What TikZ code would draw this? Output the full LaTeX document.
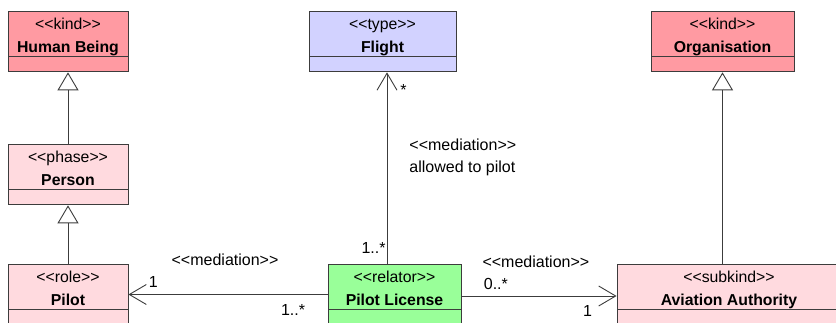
\documentclass[tikz,border=0pt]{standalone}
\usepackage{fontspec}
\setmainfont{Liberation Sans}[Ligatures=TeXOff]
\usetikzlibrary{arrows.meta, positioning}
\definecolor{umLine}{HTML}{3C3C3C}
\definecolor{umKind}{HTML}{FF9AA2}
\definecolor{umPale}{HTML}{FFDADF}
\definecolor{umType}{HTML}{D2D2FF}
\definecolor{umRelator}{HTML}{99FF99}
\newcommand{\clstext}[2]{\rule{0pt}{18pt}<<#1>>\\\textbf{#2}\rule[-3.5pt]{0pt}{0pt}}
\tikzset{
  cls/.style={
    draw=umLine, line width=0.9pt, inner sep=0pt,
    minimum height=45pt, align=center,
    font=\fontsize{15.8}{23}\selectfont, text=black
  },
  ops/.style={draw=umLine, line width=0.9pt, inner sep=0pt, minimum height=15pt},
  gen/.style={-{Triangle[open, length=18pt, width=21pt, fill=white]}, line width=0.9pt, draw=umLine},
  nav/.style={-{Straight Barb[length=17pt, width=20pt]}, line width=0.9pt, draw=umLine},
  lbl/.style={font=\fontsize{16}{22}\selectfont, text=black, inner sep=0pt},
}

\begin{document}
\begin{tikzpicture}[x=1pt, y=-1pt]
  \useasboundingbox (0,0) rectangle (836,323);
  \clip (0,0) rectangle (836,323);

  % classes
  \node[cls, fill=umKind, minimum width=120pt] (human) at (68,33.5) {\clstext{kind}{Human Being}};
  \node[ops, fill=umKind, minimum width=120pt, below=0pt of human] (human-ops) {};
  \node[cls, fill=umType, minimum width=147pt] (flight) at (382.5,33.5) {\clstext{type}{Flight}};
  \node[ops, fill=umType, minimum width=147pt, below=0pt of flight] (flight-ops) {};
  \node[cls, fill=umKind, minimum width=143pt] (org) at (722.5,33.5) {\clstext{kind}{Organisation}};
  \node[ops, fill=umKind, minimum width=143pt, below=0pt of org] (org-ops) {};

  \node[cls, fill=umPale, minimum width=120pt] (person) at (68,166.5) {\clstext{phase}{Person}};
  \node[ops, fill=umPale, minimum width=120pt, below=0pt of person] (person-ops) {};

  \node[cls, fill=umPale, minimum width=120pt] (pilot) at (68,286.5) {\clstext{role}{Pilot}};
  \node[ops, fill=umPale, minimum width=120pt, below=0pt of pilot] (pilot-ops) {};
  \node[cls, fill=umRelator, minimum width=133pt] (lic) at (394.5,286.5) {\clstext{relator}{Pilot License}};
  \node[ops, fill=umRelator, minimum width=133pt, below=0pt of lic] (lic-ops) {};
  \node[cls, fill=umPale, minimum width=224pt] (auth) at (729,286.5) {\clstext{subkind}{Aviation Authority}};
  \node[ops, fill=umPale, minimum width=224pt, below=0pt of auth] (auth-ops) {};

  % generalisations
  \draw[gen] (person.north) -- (human-ops.south);
  \draw[gen] (pilot.north) -- (person-ops.south);
  \draw[gen] (org-ops.south |- auth.north) -- (org-ops.south);

  % mediations
  \draw[nav] ([yshift=-8pt]lic.west) -- ([yshift=-8pt]lic.west -| pilot.east)
    node[lbl, pos=0.515, above=28pt] (med-pilot) {<<mediation>>}
    node[lbl, at end, anchor=south west, xshift=20pt, yshift=7pt] (m-pilot) {1}
    node[lbl, at start, anchor=north east, xshift=-22pt, yshift=-10pt] (m-lic-l) {1..*};
  \draw[nav] ([yshift=-9.5pt]lic.east) -- ([yshift=-9.5pt]lic.east -| auth.west)
    node[lbl, pos=0.48, above=28pt] (med-auth) {<<mediation>>}
    node[lbl, at start, anchor=south west, xshift=22pt, yshift=6pt] (m-lic-r) {0..*}
    node[lbl, at end, anchor=north east, xshift=-24pt, yshift=-9pt] (m-auth) {1};
  \draw[nav] ([xshift=-7.5pt]lic.north) -- ([xshift=-7.5pt]lic.north |- flight-ops.south)
    node[lbl, pos=0.554, anchor=west, xshift=22pt, align=left] (med-flight) {<<mediation>>\\allowed to pilot}
    node[lbl, at end, anchor=north west, xshift=13pt, yshift=-12pt] (m-flight) {*}
    node[lbl, at start, anchor=south east, xshift=-1pt, yshift=10pt] (m-lic-t) {1..*};
\end{tikzpicture}
\end{document}
